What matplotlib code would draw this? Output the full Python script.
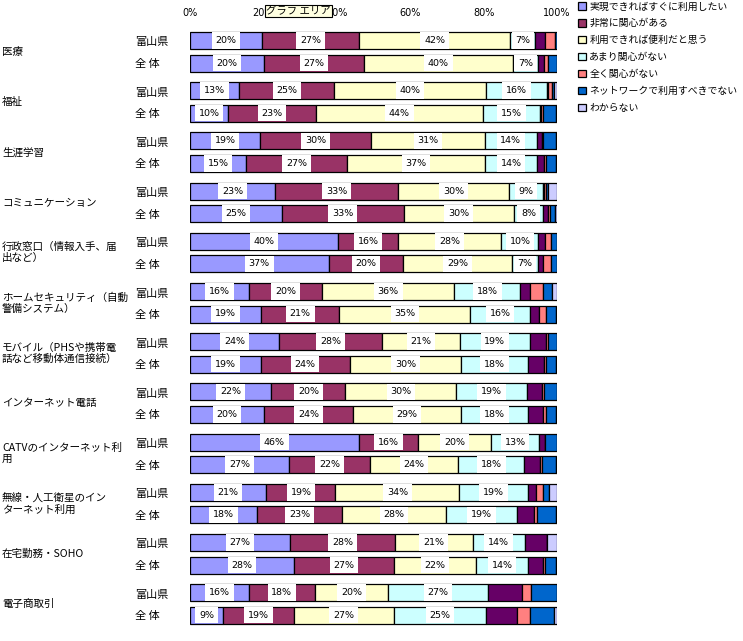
import matplotlib
matplotlib.use("Agg")
import matplotlib.pyplot as plt
import numpy as np
from matplotlib.transforms import blended_transform_factory

plt.rcParams['font.family'] = ['Noto Sans CJK JP', 'DejaVu Sans']

categories = ["医療", "福祉", "生涯学習", "コミュニケーション",
              "行政窓口（情報入手、届\n出など）",
              "ホームセキュリティ（自動\n警備システム）",
              "モバイル（PHSや携帯電\n話など移動体通信接続）",
              "インターネット電話",
              "CATVのインターネット利\n用",
              "無線・人工衛星のイン\nターネット利用",
              "在宅勤務・SOHO", "電子商取引"]
groups = ["富山県", "全 体"]
series_names = ["実現できればすぐに利用したい", "非常に関心がある",
                "利用できれば便利だと思う", "あまり関心がない",
                "（凡例なし）", "全く関心がない",
                "ネットワークで利用すべきでない", "わからない"]
legend_series = [0, 1, 2, 3, 5, 6, 7]
labeled_series = [0, 1, 2, 3]

# values per category: [富山県, 全体]
s_jitsugen = [[20, 20], [13, 10], [19, 15], [23, 25], [40, 37], [16, 19],
              [24, 19], [22, 20], [46, 27], [21, 18], [27, 28], [16, 9]]
s_hijou = [[27, 27], [25, 23], [30, 27], [33, 33], [16, 20], [20, 21],
           [28, 24], [20, 24], [16, 22], [19, 23], [28, 27], [18, 19]]
s_benri = [[42, 40], [40, 44], [31, 37], [30, 30], [28, 29], [36, 35],
           [21, 30], [30, 29], [20, 24], [34, 28], [21, 22], [20, 27]]
s_amari = [[7, 7], [16, 15], [14, 14], [9, 8], [10, 7], [18, 16],
           [19, 18], [19, 18], [13, 18], [19, 19], [14, 14], [27, 25]]
s_other = [[2.7, 1.5], [0.3, 0.3], [1.5, 1.8], [0.2, 1.3], [1.8, 1.3], [2.7, 2.4],
           [4.2, 4.3], [4.2, 4.2], [1.5, 4.3], [2.2, 4.7], [6.0, 4.1], [9.3, 8.3]]
s_mattaku = [[2.7, 1.0], [1.0, 0.5], [0.2, 0.5], [0.6, 0.6], [1.6, 2.2], [3.6, 1.8],
             [0.6, 0.5], [0.6, 0.7], [0.0, 0.5], [1.8, 0.8], [0.0, 0.5], [2.4, 3.4]]
s_network = [[0.6, 2.5], [0.6, 3.3], [3.4, 2.7], [0.7, 1.2], [1.6, 1.5], [2.3, 2.7],
             [2.5, 2.7], [3.4, 2.7], [3.4, 3.8], [1.6, 5.1], [0.0, 2.9], [7.2, 6.5]]
s_wakaranai = [[0.0, 0.0], [0.8, 0.3], [0.4, 0.3], [2.3, 0.6], [0.0, 0.0], [1.4, 0.3],
               [0.0, 0.3], [0.0, 0.3], [0.0, 0.3], [2.3, 0.3], [2.7, 0.3], [0.0, 0.9]]

colors = ["#9999FF", "#993366", "#FFFFCC", "#CCFFFF",
          "#660066", "#FF8080", "#0066CC", "#CCCCFF"]
tick_vals = [0, 20, 40, 60, 80, 100]
tick_labels = ["0%", "20%", "40%", "60%", "80%", "100%"]

W, H = 743, 641
fig = plt.figure(figsize=(W / 100, H / 100), dpi=100)
ax_top_px, ax_bot_px = 20, 641
ax = fig.add_axes([190 / W, 1 - ax_bot_px / H, 367 / W, (ax_bot_px - ax_top_px) / H])
ax.set_xlim(0, 100)
ax.set_ylim(ax_bot_px, ax_top_px)

n = len(categories)
pitch = 50.2
idx = np.arange(n)
y_a = 40.5 + pitch * idx
y_b = 63.0 + pitch * idx
ypos = np.column_stack([y_a, y_b]).ravel()

data = np.array([s_jitsugen, s_hijou, s_benri, s_amari,
                 s_other, s_mattaku, s_network, s_wakaranai], dtype=float).reshape(8, -1)
shares = data / data.sum(axis=0) * 100

left = np.zeros(data.shape[1])
containers = []
for k in range(8):
    bc = ax.barh(ypos, shares[k], left=left, height=17, color=colors[k],
                 edgecolor="black", linewidth=0.9, label=series_names[k], zorder=2)
    containers.append(bc)
    if k in labeled_series:
        for j in range(data.shape[1]):
            ax.text(left[j] + shares[k][j] / 2, ypos[j], f"{data[k][j]:.0f}%",
                    ha="center", va="center", fontsize=6.8, family="DejaVu Sans",
                    zorder=5,
                    bbox=dict(boxstyle="square,pad=0.4", facecolor="white",
                              edgecolor="none"))
    left = left + shares[k]

ax.set_xticks(tick_vals)
ax.set_xticklabels(tick_labels, fontsize=7, family="DejaVu Sans")
ax.xaxis.tick_top()
ax.tick_params(axis="x", length=0, pad=1.5)
ax.set_yticks([])
for sp in ax.spines.values():
    sp.set_visible(False)

trans = blended_transform_factory(fig.transFigure, ax.transData)
for i, cat in enumerate(categories):
    ax.text(2 / W, 52 + pitch * i, cat, transform=trans, ha="left", va="center",
            fontsize=7.6, linespacing=1.15, clip_on=False)
    ax.text(135 / W, y_a[i] + 2, groups[0], transform=trans, ha="left",
            va="center", fontsize=8, clip_on=False)
    ax.text(135 / W, y_b[i] + 1, groups[1], transform=trans, ha="left",
            va="center", fontsize=8, clip_on=False)

fig.legend(handles=[containers[k] for k in legend_series],
           labels=[series_names[k] for k in legend_series],
           loc="upper left", bbox_to_anchor=(577 / W, 1 - 0 / H),
           frameon=False, fontsize=7.1, handlelength=0.75, handleheight=0.75,
           handletextpad=0.35, labelspacing=0.7, borderpad=0.15, borderaxespad=0)

fig.text(266 / W, 1 - 11 / H, "グラフ エリア", fontsize=7.5, ha="left", va="center",
         zorder=10,
         bbox=dict(boxstyle="square,pad=0.12", facecolor="#FFFFE1",
                   edgecolor="black", linewidth=0.8))

fig.savefig("out.png", dpi=100)
